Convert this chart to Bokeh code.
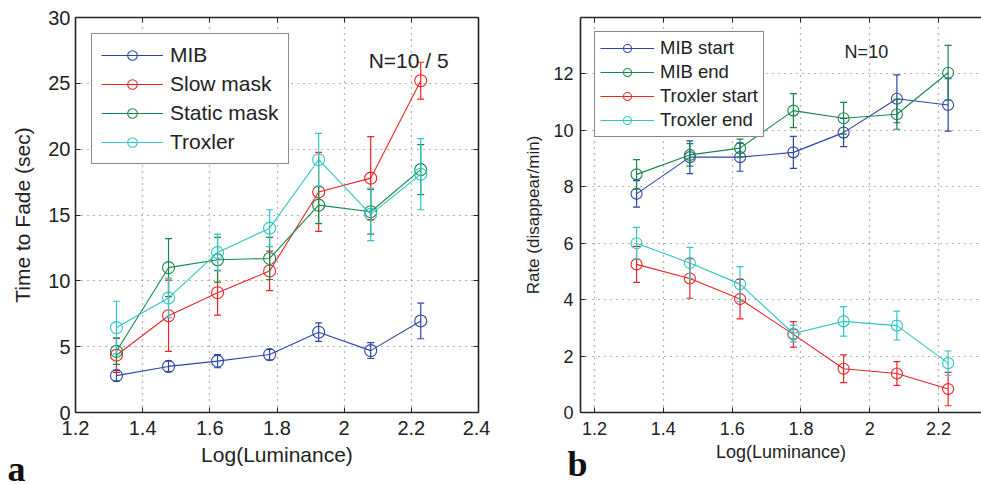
from bokeh.plotting import figure
from bokeh.models import (Whisker, TeeHead, ColumnDataSource, Legend, LegendItem,
                          Label, FixedTicker, LinearAxis, Range1d, CustomJSTickFormatter, Title)
from bokeh.layouts import row
from bokeh.embed import file_html
from bokeh.resources import INLINE

# ---------------- data ----------------
lum = [1.322, 1.477, 1.623, 1.778, 1.924, 2.079, 2.228]

# panel a : time to fade (sec)
a_names = ["MIB", "Slow mask", "Static mask", "Troxler"]
a_mib = [2.8, 3.5, 3.9, 4.4, 6.1, 4.7, 6.95]
a_mib_err = [0.4, 0.4, 0.5, 0.4, 0.7, 0.6, 1.35]
a_slow = [4.35, 7.35, 9.1, 10.75, 16.75, 17.8, 25.2]
a_slow_err = [1.3, 2.7, 1.7, 1.5, 3.0, 3.15, 1.4]
a_static = [4.65, 11.0, 11.6, 11.7, 15.75, 15.25, 18.45]
a_static_err = [1.0, 2.2, 1.7, 1.6, 1.4, 1.7, 1.9]
a_trox = [6.45, 8.7, 12.15, 14.0, 19.2, 15.05, 18.1]
a_trox_err = [2.0, 1.5, 1.4, 1.4, 2.0, 2.0, 2.7]

# panel b : rate (disappear/min)
b_names = ["MIB start", "MIB end", "Troxler start", "Troxler end"]
b_mib_start = [7.75, 9.05, 9.05, 9.22, 9.92, 11.12, 10.9]
b_mib_start_err = [0.47, 0.58, 0.5, 0.57, 0.5, 0.85, 0.93]
b_mib_end = [8.44, 9.13, 9.37, 10.7, 10.43, 10.57, 12.04]
b_mib_end_err = [0.52, 0.4, 0.32, 0.6, 0.56, 0.53, 0.97]
b_trox_start = [5.25, 4.75, 4.02, 2.77, 1.55, 1.38, 0.83]
b_trox_start_err = [0.64, 0.7, 0.7, 0.45, 0.49, 0.42, 0.59]
b_trox_end = [6.0, 5.3, 4.55, 2.8, 3.23, 3.08, 1.75]
b_trox_end_err = [0.56, 0.55, 0.62, 0.3, 0.52, 0.51, 0.43]

a_xticks = [1.2, 1.4, 1.6, 1.8, 2.0, 2.2, 2.4]
a_yticks = [0, 5, 10, 15, 20, 25, 30]
b_xticks = [1.2, 1.4, 1.6, 1.8, 2.0, 2.2]
b_yticks = [0, 2, 4, 6, 8, 10, 12]

BLUE = "#2f45a6"
RED = "#ee2424"
GREEN = "#16884a"
CYAN = "#2ec6c6"
FONT = "Liberation Sans"

fmt_code = "return Number(tick.toFixed(2)).toString();"
blank_code = "return '';"


def box_axis(ticks):
    return LinearAxis(ticker=FixedTicker(ticks=ticks),
                      formatter=CustomJSTickFormatter(code=blank_code),
                      major_tick_in=5, major_tick_out=0, minor_tick_line_color=None,
                      axis_line_color="#222222", axis_line_width=1.6,
                      major_tick_line_color="#222222", major_label_standoff=0)


def style_axes(p, xticks, yticks, tick_fs, label_fs, xlabel, ylabel,
               x_std, y_std, x_lstd, y_lstd, right_box=True):
    p.xaxis.ticker = FixedTicker(ticks=xticks)
    p.yaxis.ticker = FixedTicker(ticks=yticks)
    p.xaxis.formatter = CustomJSTickFormatter(code=fmt_code)
    p.yaxis.formatter = CustomJSTickFormatter(code=fmt_code)
    for ax in (p.xaxis[0], p.yaxis[0]):
        ax.axis_line_color = "#222222"
        ax.axis_line_width = 1.6
        ax.major_tick_in = 5
        ax.major_tick_out = 0
        ax.minor_tick_line_color = None
        ax.major_tick_line_color = "#222222"
        ax.major_label_text_font = FONT
        ax.major_label_text_font_size = tick_fs
        ax.major_label_text_color = "#222222"
        ax.axis_label_text_font = FONT
        ax.axis_label_text_font_size = label_fs
        ax.axis_label_text_font_style = "normal"
        ax.axis_label_text_color = "#222222"
    p.xaxis.axis_label = xlabel
    p.yaxis.axis_label = ylabel
    p.xaxis.major_label_standoff = x_std
    p.yaxis.major_label_standoff = y_std
    p.xaxis.axis_label_standoff = x_lstd
    p.yaxis.axis_label_standoff = y_lstd
    p.xgrid.ticker = FixedTicker(ticks=xticks)
    p.ygrid.ticker = FixedTicker(ticks=yticks)
    p.grid.grid_line_color = "#444444"
    p.grid.grid_line_dash = "1 5"
    p.grid.grid_line_width = 1.2
    p.grid.grid_line_alpha = 0.8
    p.add_layout(box_axis(xticks), "above")
    if right_box:
        p.add_layout(box_axis(yticks), "right")


def add_series(p, x, y, err, color, size, head):
    src = ColumnDataSource(dict(x=x, y=y,
                                upper=[v + e for v, e in zip(y, err)],
                                lower=[v - e for v, e in zip(y, err)]))
    w = Whisker(base="x", upper="upper", lower="lower", source=src,
                line_color=color, line_width=1.2,
                upper_head=TeeHead(size=head, line_color=color, line_width=1.2),
                lower_head=TeeHead(size=head, line_color=color, line_width=1.2))
    w.level = "glyph"
    p.add_layout(w)
    lr = p.line("x", "y", source=src, line_color=color, line_width=1.1)
    sr = p.scatter("x", "y", source=src, marker="circle", size=size,
                   fill_color=None, line_color=color, line_width=1.1)
    return [lr, sr]


def panel_letter(p, letter, offset, standoff):
    t = Title(text=letter, align="left", offset=offset, standoff=standoff,
              vertical_align="top", text_font="Liberation Serif",
              text_font_size="36px", text_font_style="bold", text_color="#111111")
    p.add_layout(t, "below")


# ---------------- panel a ----------------
pa = figure(width=490, height=484, output_backend="svg", toolbar_location=None,
            x_range=Range1d(1.2, 2.4), y_range=Range1d(0, 30),
            min_border_left=75, min_border_right=12, min_border_top=17,
            min_border_bottom=71)
pa.outline_line_color = None
pa.background_fill_color = "white"
pa.border_fill_color = "white"
style_axes(pa, a_xticks, a_yticks, "20px", "21px", "Log(Luminance)", "Time to Fade (sec)",
           8, 5, 5, 11)

a_series = [(a_mib, a_mib_err, BLUE), (a_slow, a_slow_err, RED),
            (a_static, a_static_err, GREEN), (a_trox, a_trox_err, CYAN)]
a_items = []
for name, (ys, es, c) in zip(a_names, a_series):
    rs = add_series(pa, lum, ys, es, c, 12, 7)
    a_items.append(LegendItem(label=name, renderers=rs))

leg_a = Legend(items=a_items, location="top_left", margin=16,
               label_text_font=FONT, label_text_font_size="21px",
               label_text_color="#222222",
               glyph_width=62, glyph_height=24, label_height=24, label_standoff=7,
               spacing=5, padding=9, border_line_color="#111111", border_line_width=1.5,
               background_fill_alpha=1.0)
pa.add_layout(leg_a)

pa.add_layout(Label(x=2.073, y=26.7, text="N=10 / 5", text_font=FONT,
                    text_font_size="21px", text_color="#222222",
                    text_baseline="alphabetic"))
panel_letter(pa, "a", -68, -40)

# ---------------- panel b ----------------
pb = figure(width=491, height=484, output_backend="svg", toolbar_location=None,
            x_range=Range1d(1.159, 2.325), y_range=Range1d(0, 14),
            min_border_left=90, min_border_right=0, min_border_top=12,
            min_border_bottom=72)
pb.outline_line_color = None
pb.background_fill_color = "white"
pb.border_fill_color = "white"
style_axes(pb, b_xticks, b_yticks, "18px", "18px", "Log(Luminance)", "Rate (disappear/min)",
           9, 7, 4, 7, right_box=False)
pb.yaxis[0].axis_label_text_font_size = "17px"

b_series = [(b_mib_start, b_mib_start_err, BLUE), (b_mib_end, b_mib_end_err, GREEN),
            (b_trox_start, b_trox_start_err, RED), (b_trox_end, b_trox_end_err, CYAN)]
b_items = []
for name, (ys, es, c) in zip(b_names, b_series):
    rs = add_series(pb, lum, ys, es, c, 11, 7)
    b_items.append(LegendItem(label=name, renderers=rs))

leg_b = Legend(items=b_items, location="top_left", margin=14,
               label_text_font=FONT, label_text_font_size="18.5px",
               label_text_color="#222222",
               glyph_width=54, glyph_height=20, label_height=20, label_standoff=6,
               spacing=2, padding=5, border_line_color="#111111", border_line_width=1.5,
               background_fill_alpha=1.0)
pb.add_layout(leg_b)

pb.add_layout(Label(x=1.927, y=12.79, text="N=10", text_font=FONT,
                    text_font_size="18px", text_color="#222222",
                    text_baseline="alphabetic"))
panel_letter(pb, "b", -13, -42)

layout = row(pa, pb, spacing=0)
open("out.html", "w").write(file_html(layout, INLINE))
